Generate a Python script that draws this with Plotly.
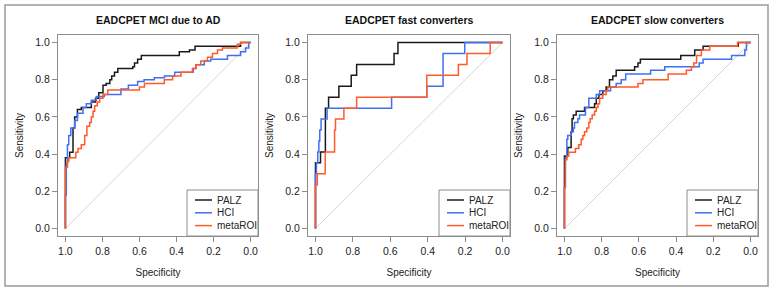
import plotly.graph_objects as go

W, H = 774, 292

# ---------------- data (specificity, sensitivity) ----------------
titles = ["EADCPET MCI due to AD", "EADCPET fast converters", "EADCPET slow converters"]
series_names = ["PALZ", "HCI", "metaROI"]
series_colors = ["#1a1a1a", "#3f6ff2", "#ff5a28"]
tick_vals = [1.0, 0.8, 0.6, 0.4, 0.2, 0.0]
tick_text = ["1.0", "0.8", "0.6", "0.4", "0.2", "0.0"]
chance_spec = [1.0, 0.0]
chance_sens = [0.0, 1.0]

# Panel 1: MCI due to AD
palz1_spec = [1.0, 1.0, 0.977, 0.959, 0.95, 0.935, 0.914, 0.86, 0.837, 0.82, 0.797, 0.78, 0.76, 0.75,
              0.735, 0.717, 0.636, 0.627, 0.61, 0.59, 0.385, 0.33, 0.30, 0.054, 0.0]
palz1_sens = [0.0, 0.38, 0.41, 0.54, 0.60, 0.64, 0.65, 0.68, 0.70, 0.73, 0.77, 0.78, 0.80, 0.82,
              0.84, 0.86, 0.87, 0.89, 0.91, 0.93, 0.95, 0.96, 0.98, 1.0, 1.0]
hci1_spec = [1.0, 1.0, 0.995, 0.989, 0.982, 0.971, 0.95, 0.935, 0.905, 0.887, 0.86, 0.833, 0.79, 0.70,
             0.66, 0.61, 0.575, 0.52, 0.465, 0.41, 0.31, 0.295, 0.25, 0.215, 0.125, 0.054, 0.027, 0.01, 0.0]
hci1_sens = [0.0, 0.18, 0.35, 0.45, 0.50, 0.54, 0.58, 0.62, 0.65, 0.67, 0.69, 0.71, 0.72, 0.75,
             0.77, 0.79, 0.80, 0.81, 0.82, 0.84, 0.86, 0.88, 0.90, 0.91, 0.93, 0.95, 0.97, 1.0, 1.0]
meta1_spec = [1.0, 1.0, 0.989, 0.982, 0.944, 0.932, 0.914, 0.896, 0.884, 0.869, 0.86, 0.851, 0.842,
              0.828, 0.815, 0.797, 0.771, 0.60, 0.573, 0.466, 0.421, 0.376, 0.314, 0.296, 0.269,
              0.233, 0.206, 0.179, 0.152, 0.072, 0.054, 0.0]
meta1_sens = [0.0, 0.33, 0.36, 0.38, 0.41, 0.43, 0.45, 0.50, 0.55, 0.57, 0.60, 0.63, 0.66,
              0.68, 0.70, 0.72, 0.745, 0.76, 0.78, 0.80, 0.82, 0.84, 0.86, 0.88, 0.90,
              0.92, 0.94, 0.96, 0.97, 0.99, 1.0, 1.0]

# Panel 2: fast converters
palz2_spec = [1.0, 1.0, 0.973, 0.947, 0.93, 0.875, 0.809, 0.78, 0.58, 0.559, 0.0]
palz2_sens = [0.0, 0.353, 0.412, 0.647, 0.706, 0.765, 0.824, 0.882, 0.941, 1.0, 1.0]
hci2_spec = [1.0, 1.0, 0.995, 0.988, 0.982, 0.977, 0.970, 0.938, 0.593, 0.405, 0.318, 0.202, 0.0]
hci2_sens = [0.0, 0.294, 0.353, 0.412, 0.471, 0.529, 0.588, 0.647, 0.706, 0.765, 0.941, 1.0, 1.0]
meta2_spec = [1.0, 1.0, 0.99, 0.948, 0.898, 0.893, 0.848, 0.78, 0.405, 0.236, 0.19, 0.066, 0.0]
meta2_sens = [0.0, 0.235, 0.294, 0.412, 0.529, 0.588, 0.647, 0.706, 0.824, 0.882, 0.941, 1.0, 1.0]

# Panel 3: slow converters
palz3_spec = [1.0, 1.0, 0.982, 0.964, 0.959, 0.952, 0.937, 0.892, 0.838, 0.829, 0.815, 0.794, 0.776,
              0.758, 0.74, 0.722, 0.623, 0.605, 0.592, 0.375, 0.30, 0.255, 0.066, 0.0]
palz3_sens = [0.0, 0.39, 0.435, 0.52, 0.59, 0.61, 0.63, 0.65, 0.67, 0.70, 0.72, 0.74, 0.76,
              0.80, 0.82, 0.85, 0.87, 0.89, 0.91, 0.93, 0.96, 0.98, 1.0, 1.0]
hci3_spec = [1.0, 1.0, 0.995, 0.987, 0.982, 0.964, 0.952, 0.946, 0.928, 0.919, 0.887, 0.869, 0.829,
             0.811, 0.752, 0.722, 0.695, 0.671, 0.537, 0.461, 0.276, 0.255, 0.102, 0.031, 0.022, 0.0]
hci3_sens = [0.0, 0.22, 0.38, 0.48, 0.50, 0.52, 0.54, 0.57, 0.59, 0.61, 0.65, 0.70, 0.72,
             0.74, 0.76, 0.78, 0.80, 0.83, 0.85, 0.87, 0.89, 0.91, 0.93, 0.96, 1.0, 1.0]
meta3_spec = [1.0, 1.0, 0.995, 0.987, 0.977, 0.941, 0.923, 0.91, 0.901, 0.892, 0.88, 0.869, 0.862,
              0.851, 0.838, 0.829, 0.82, 0.811, 0.794, 0.776, 0.767, 0.605, 0.578, 0.443, 0.345,
              0.318, 0.305, 0.29, 0.264, 0.219, 0.07, 0.0]
meta3_sens = [0.0, 0.22, 0.37, 0.39, 0.41, 0.43, 0.45, 0.48, 0.50, 0.52, 0.54, 0.57, 0.59,
              0.61, 0.63, 0.65, 0.67, 0.70, 0.72, 0.74, 0.76, 0.78, 0.80, 0.83, 0.85,
              0.87, 0.89, 0.93, 0.96, 0.98, 1.0, 1.0]

panels = [
    [(palz1_spec, palz1_sens), (hci1_spec, hci1_sens), (meta1_spec, meta1_sens)],
    [(palz2_spec, palz2_sens), (hci2_spec, hci2_sens), (meta2_spec, meta2_sens)],
    [(palz3_spec, palz3_sens), (hci3_spec, hci3_sens), (meta3_spec, meta3_sens)],
]

# ---------------- layout geometry (pixels) ----------------
plot_x_px = [(58, 258), (308, 510), (557, 758)]
plot_y_px = (35, 236)

def fx(p):
    return p / W

def fy(p):
    return 1 - p / H

FONT = "Liberation Sans, Arial, Helvetica, sans-serif"
AXIS_GRAY = "#8c8c8c"

fig = go.Figure()
shapes = []
annotations = []

for i, panel in enumerate(panels):
    suffix = "" if i == 0 else str(i + 1)
    xa, ya = "x" + suffix, "y" + suffix
    fig.add_trace(go.Scatter(x=chance_spec, y=chance_sens, mode="lines",
                             line=dict(color="#d6d6d6", width=1), xaxis=xa, yaxis=ya,
                             showlegend=False, hoverinfo="skip"))
    for (spec, sens), name, color in zip(panel, series_names, series_colors):
        fig.add_trace(go.Scatter(x=spec, y=sens, mode="lines", name=name,
                                 line=dict(color=color, width=1.5, shape="hv"),
                                 xaxis=xa, yaxis=ya, showlegend=False))

    x0, x1 = plot_x_px[i]
    y0, y1 = plot_y_px
    axis_common = dict(showline=True, mirror=True, linecolor=AXIS_GRAY, linewidth=1,
                       ticks="outside", ticklen=5, tickcolor=AXIS_GRAY, tickwidth=1,
                       showgrid=False, zeroline=False, tickvals=tick_vals, ticktext=tick_text,
                       tickfont=dict(size=10.5, color="#222222", family=FONT), fixedrange=True)
    fig.update_layout(**{
        "xaxis" + suffix: dict(axis_common, domain=[fx(x0), fx(x1)], range=[1.04, -0.04],
                               anchor=ya,
                               title=dict(text="Specificity", standoff=13,
                                          font=dict(size=10, color="#222222", family=FONT))),
        "yaxis" + suffix: dict(axis_common, domain=[fy(y1), fy(y0)], range=[-0.04, 1.04],
                               anchor=xa,
                               title=dict(text="Sensitivity", standoff=9,
                                          font=dict(size=10, color="#222222", family=FONT))),
    })

    annotations.append(dict(text="<b>" + titles[i] + "</b>", x=fx((x0 + x1) / 2), y=fy(20),
                            xref="paper", yref="paper", xanchor="center", yanchor="middle",
                            showarrow=False, font=dict(size=10.5, color="#111111", family=FONT)))

    # legend box (bottom-right of plot area)
    lw, lh = 71, 46
    lx0, ly1 = x1 - lw, y1 - lh
    shapes.append(dict(type="rect", xref="paper", yref="paper", x0=fx(lx0), x1=fx(x1),
                       y0=fy(y1), y1=fy(ly1), line=dict(color=AXIS_GRAY, width=1),
                       fillcolor="white", layer="above"))
    for k, (name, color) in enumerate(zip(series_names, series_colors)):
        ry = ly1 + 10 + k * 12.8
        shapes.append(dict(type="line", xref="paper", yref="paper", x0=fx(lx0 + 8), x1=fx(lx0 + 25),
                           y0=fy(ry), y1=fy(ry), line=dict(color=color, width=1.5), layer="above"))
        annotations.append(dict(text=name, x=fx(lx0 + 28), y=fy(ry), xref="paper", yref="paper",
                                xanchor="left", yanchor="middle", showarrow=False,
                                font=dict(size=10, color="#222222", family=FONT)))

# outer border
shapes.append(dict(type="rect", xref="paper", yref="paper", x0=fx(5), x1=fx(768),
                   y0=fy(286), y1=fy(5), line=dict(color="#9a9a9a", width=1.5)))

fig.update_layout(width=W, height=H, margin=dict(l=0, r=0, t=0, b=0),
                  paper_bgcolor="white", plot_bgcolor="white",
                  font=dict(family=FONT, size=10, color="#222222"),
                  shapes=shapes, annotations=annotations, showlegend=False)

fig.write_html("out.html", config={"displayModeBar": False},
               post_script="document.body.style.margin='0';document.body.style.overflow='hidden';")
